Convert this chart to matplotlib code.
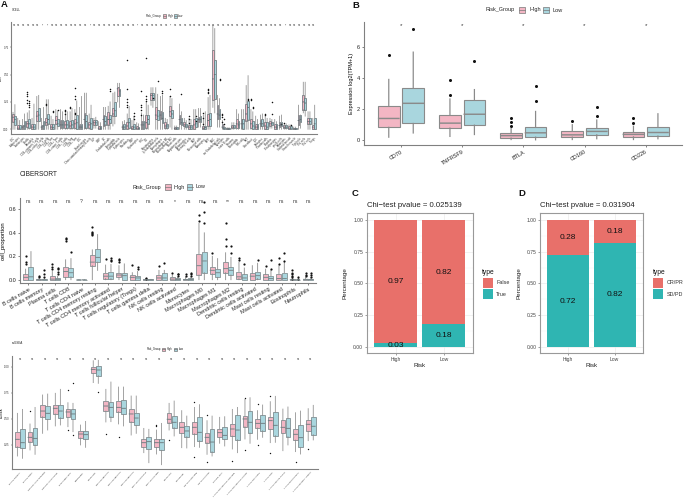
import matplotlib
matplotlib.use("Agg")
import matplotlib.pyplot as plt
from matplotlib.patches import Rectangle
from matplotlib.lines import Line2D

plt.rcParams['font.family'] = ['Liberation Sans', 'DejaVu Sans']
W, H = 685, 500
PINK, TEAL = '#F3B6C4', '#A9D6DE'
RED, GREEN = '#E8706A', '#2FB5B2'

# ---------- Panel A (xCell): rows are low whisker, q1, median, q3, high whisker
a_names = ["aDC","Adipocytes","Astrocytes","B-cells","Basophils","CD4+ memory T-cells","CD4+ naive T-cells",
 "CD4+ T-cells","CD4+ Tcm","CD4+ Tem","CD8+ naive T-cells","CD8+ T-cells","CD8+ Tcm","CD8+ Tem","cDC",
 "Chondrocytes","Class-switched memory B-cells","CLP","CMP","DC","Endothelial cells","Eosinophils",
 "Epithelial cells","Erythrocytes","Fibroblasts","GMP","Hepatocytes","HSC","iDC","Keratinocytes",
 "ly Endothelial cells","Macrophages","Macrophages M1","Macrophages M2","Mast cells","Megakaryocytes",
 "Melanocytes","Memory B-cells","MEP","Mesangial cells","Monocytes","MPP","MSC","mv Endothelial cells",
 "Myocytes","naive B-cells","Neurons","Neutrophils","NK cells","NKT","Osteoblast","pDC","Pericytes",
 "Plasma cells","Platelets","Preadipocytes","pro B-cells","Sebocytes","Skeletal muscle","Smooth muscle",
 "Tgd cells","Th1 cells","Th2 cells","Tregs"]
a_high = [(0,.07,.11,.14,.155),(0,.003,.01,.04,.1),(0,.003,.02,.043,.09),(0,.02,.05,.08,.15),(0,.003,.02,.052,.1),
 (0,.074,.12,.165,.3),(0,.003,.02,.043,.1),(0,.04,.06,.104,.27),(0,.003,.02,.052,.12),(0,.052,.08,.12,.18),
 (0,.012,.04,.089,.18),(0,.009,.04,.074,.17),(0,.012,.03,.08,.16),(0,.012,.05,.096,.18),(0,.003,.02,.052,.2),
 (0,.012,.09,.15,.33),(0,.012,.04,.07,.14),(.01,.043,.06,.083,.1),(0,.003,.01,.028,.07),(0,.028,.09,.132,.2),
 (0,.043,.09,.16,.21),(.03,.125,.14,.193,.33),(.25,.3,.37,.39,.42),(0,.003,.02,.043,.07),(0,.003,.03,.07,.14),
 (0,.003,.01,.034,.08),(0,.003,.01,.028,.06),(0,.003,.04,.074,.15),(0,.012,.06,.132,.25),(.22,.265,.31,.33,.38),
 (0,.09,.13,.2,.38),(0,.09,.13,.166,.3),(0,.015,.03,.064,.1),(.02,.12,.16,.212,.3),(0,.003,.008,.02,.03),
 (0,.052,.09,.132,.23),(0,.028,.04,.064,.1),(0,.003,.02,.043,.1),(0,.003,.04,.095,.18),(.02,.064,.09,.113,.19),
 (0,.003,.01,.028,.13),(0,.028,.08,.138,.29),(.2,.27,.46,.72,.95),(.02,.095,.14,.224,.31),(0,.01,.02,.052,.08),
 (0,0,.003,.01,.015),(0,.012,.02,.043,.06),(0,.012,.05,.095,.18),(0,.012,.05,.095,.18),(0,.08,.14,.231,.4),
 (0,.012,.05,.095,.18),(0,.003,.02,.052,.12),(0,.028,.05,.083,.13),(0,.003,.03,.07,.12),(.01,.034,.05,.077,.1),
 (0,.003,.02,.052,.09),(0,.02,.035,.064,.12),(0,.015,.02,.043,.05),(0,.003,.01,.028,.04),(0,0,.003,.015,.02),
 (0,.04,.08,.126,.22),(.15,.18,.25,.31,.43),(0,.052,.07,.104,.16),(0,.003,.02,.043,.1)]
a_low = [(0,.035,.09,.12,.225),(0,.003,.01,.043,.08),(0,.003,.03,.074,.14),(0,.012,.05,.098,.17),(0,.003,.02,.052,.23),
 (0,.074,.13,.19,.31),(0,.003,.03,.08,.2),(0,.052,.09,.144,.27),(0,.003,.015,.052,.09),(0,.028,.05,.098,.17),
 (0,.012,.04,.083,.16),(0,.012,.04,.083,.16),(0,.012,.04,.089,.19),(0,.003,.06,.126,.26),(0,.003,.02,.052,.3),
 (0,.012,.07,.135,.33),(0,.003,.05,.104,.22),(.01,.043,.06,.083,.11),(0,.003,.01,.028,.06),(0,.043,.07,.12,.2),
 (0,.058,.09,.132,.25),(.05,.12,.17,.25,.34),(.2,.3,.35,.37,.42),(0,.003,.02,.052,.08),(0,.012,.06,.104,.21),
 (0,.003,.02,.052,.12),(0,.003,.008,.02,.05),(0,.003,.04,.074,.13),(0,.052,.09,.132,.22),(.2,.27,.31,.335,.38),
 (0,.083,.12,.18,.32),(0,.058,.1,.156,.31),(0,.015,.03,.052,.09),(0,.101,.14,.18,.28),(0,.003,.008,.02,.03),
 (0,.043,.06,.101,.16),(0,.02,.03,.052,.08),(0,.003,.02,.043,.09),(0,.02,.05,.101,.18),(.02,.07,.09,.12,.19),
 (0,.003,.015,.034,.16),(0,.028,.09,.15,.31),(.15,.28,.5,.63,.92),(.02,.098,.13,.187,.28),(0,.003,.005,.02,.03),
 (0,0,.003,.01,.015),(0,.012,.02,.043,.06),(0,.012,.04,.074,.14),(0,.003,.05,.095,.18),(0,.088,.2,.26,.49),
 (0,.003,.03,.074,.16),(0,.003,.02,.052,.09),(0,.028,.05,.095,.14),(0,.003,.02,.07,.1),(.01,.04,.05,.07,.09),
 (0,.003,.02,.052,.07),(0,.028,.04,.07,.13),(0,.015,.02,.043,.05),(0,.003,.01,.028,.04),(0,0,.003,.015,.02),
 (.01,.064,.09,.126,.13),(.12,.175,.24,.29,.43),(0,.052,.07,.107,.16),(0,.003,.05,.104,.22)]
a_high_out = {3:[.34,.32,.3,.27,.24],7:[.23,.22],11:[.18,.17,.14],12:[.2,.19],13:[.38,.3,.28,.15,.14],
 24:[.37,.63,.28,.25,.22,.2],27:[.35,.22,.2,.18,.13],28:[.655,.3,.28,.26],33:[.37,.3],37:[.12,.09,.06],
 40:[.15,.1,.05],41:[.37,.36,.34,.33],44:[.14,.13,.11,.07],50:[.28,.27],53:[.14,.13],57:[.06]}
a_low_out = {3:[.26,.24,.22,.2],8:[.17,.16],9:[.18],20:[.35,.37],25:[.15,.12,.09],29:[.29],30:[.44],31:[.35,.33],
 35:[.32],38:[.12,.08],43:[.46,.45],44:[.09,.05],49:[.28,.27],50:[.2,.19],54:[.25,.14],56:[.05],58:[.04]}
a_star = [6, 7, 16, 26, 33, 57]

# ---------- CIBERSORT
c_names = ["B cells naive","B cells memory","Plasma cells","T cells CD8","T cells CD4 naive","T cells CD4 memory resting",
 "T cells CD4 memory activated","T cells follicular helper","T cells regulatory (Tregs)","T cells gamma delta",
 "NK cells resting","NK cells activated","Monocytes","Macrophages M0","Macrophages M1","Macrophages M2",
 "Dendritic cells resting","Dendritic cells activated","Mast cells resting","Mast cells activated","Eosinophils","Neutrophils"]
c_sig = ["ns","ns","ns","ns","?","ns","ns","ns","ns","ns","ns","*","ns","ns","ns","**","ns","ns","ns","ns","ns","ns"]
c_high = [(0,0,.02,.045,.09),(0,0,0,.005,.01),(0,0,.005,.03,.07),(0,.02,.07,.11,.17),(0,0,0,.001,.002),(0,.12,.15,.21,.255),
 (0,.01,.03,.06,.125),(0,.02,.04,.06,.12),(0,0,.02,.04,.06),(0,0,0,.005,.008),(0,0,.015,.04,.08),(0,0,.005,.025,.04),
 (0,0,.002,.01,.02),(0,.04,.12,.22,.48),(0,.05,.08,.11,.2),(0,.06,.095,.15,.23),(0,.01,.025,.07,.15),(0,0,.03,.055,.12),
 (0,0,.02,.045,.09),(0,0,.01,.05,.12),(0,0,0,.002,.004),(0,0,.003,.01,.02)]
c_low = [(0,0,.025,.105,.24),(0,0,0,.005,.01),(0,0,.003,.012,.03),(0,.025,.06,.10,.18),(0,0,0,.001,.002),(.08,.15,.19,.26,.385),
 (0,.01,.03,.07,.13),(0,0,.035,.055,.135),(0,0,.015,.035,.07),(0,0,0,.002,.003),(0,0,.015,.055,.08),(0,0,.002,.012,.02),
 (0,0,.002,.012,.02),(0,.06,.16,.24,.4),(0,.02,.06,.09,.18),(0,.04,.08,.105,.19),(0,0,.015,.045,.1),(0,.01,.035,.07,.14),
 (0,0,.01,.035,.08),(0,0,.01,.06,.15),(0,0,0,.001,.002),(0,0,.002,.007,.015)]
c_high_out = [[.13,.15,.2],[.02,.03],[.09,.11,.13],[.33,.35,.36],[],[.38,.39,.4,.41,.45],[.18],[.15,.17,.18],[.125],[.01,.015],
 [.12],[.06],[.03,.05],[.5,.55],[.225],[.29,.35,.48],[.17,.185],[],[.115],[.13,.185],[.01,.02,.03,.05,.06,.08],[.03,.04,.06]]
c_low_out = [[],[.02,.045,.08],[.05,.07,.09,.1],[.235],[],[],[.16,.17,.185],[],[.09,.11],[],[.14],[.03,.045,.05],[.03,.05,.055],
 [.48,.575,.66],[],[.225,.285],[.13],[.165],[.09,.17],[.16,.225],[.01,.02],[.025,.04,.06]]

# ---------- ssGSEA
s_names = ["B cells memory","B cells naive","Dendritic cells activated","Dendritic cells resting","Endothelial cells",
 "Eosinophils","Fibroblasts","Macrophages M0","Macrophages M1","Macrophages M2","Mast cells activated","Mast cells resting",
 "Monocytes","Neutrophils","NK cells activated","NK cells resting","Plasma cells","T cells CD4 memory activated",
 "T cells CD4 memory resting","T cells CD4 naive","T cells CD8","T cells follicular helper","T cells gamma delta",
 "T cells regulatory (Tregs)"]
s_high = [(.144,.234,.304,.377,.553),(.202,.282,.323,.377,.451),(.361,.521,.575,.636,.729),(.432,.547,.601,.636,.745),
 (.425,.515,.566,.591,.655),(.25,.317,.355,.387,.441),(.847,.936,.974,1.0,1.057),(.47,.575,.623,.674,.783),
 (.451,.569,.61,.674,.805),(.345,.473,.547,.598,.719),(.176,.227,.272,.304,.409),(.163,.227,.272,.304,.393),
 (.393,.464,.496,.559,.649),(.224,.361,.419,.467,.579),(.234,.358,.419,.467,.61),(.16,.272,.323,.368,.483),
 (.266,.323,.368,.406,.515),(.211,.336,.403,.454,.591),(.307,.425,.499,.527,.687),(.304,.413,.457,.496,.579),
 (.272,.4,.483,.515,.665),(.195,.361,.419,.486,.594),(.186,.297,.352,.406,.559),(.291,.381,.448,.486,.598)]
s_low = [(.122,.218,.272,.4,.591),(.16,.25,.313,.409,.61),(.393,.495,.553,.623,.738),(.441,.511,.575,.636,.783),
 (.377,.495,.547,.591,.649),(.227,.304,.349,.381,.476),(.84,.914,.968,1.006,1.061),(.473,.521,.61,.658,.853),
 (.432,.543,.601,.678,.805),(.361,.438,.508,.559,.719),(.08,.208,.282,.323,.4),(.061,.199,.272,.304,.457),
 (.336,.416,.467,.524,.671),(.221,.33,.384,.432,.527),(.227,.291,.371,.515,.636),(.144,.186,.278,.4,.527),
 (.24,.304,.342,.419,.521),(.176,.301,.393,.534,.61),(.266,.365,.467,.572,.703),(.323,.387,.457,.534,.633),
 (.275,.339,.438,.562,.716),(.25,.33,.409,.505,.614),(.163,.227,.32,.438,.575),(.298,.349,.429,.521,.63)]
s_high_out = {1:[.58],4:[.776,.393],7:[.355],8:[.326],11:[.444,.432],12:[.298],14:[.662,.135],15:[.534,.087],17:[.093],
 18:[.70,.2],19:[.639,.253],20:[.72,.17],22:[.087],23:[.208]}
s_low_out = {4:[.84,.342],6:[.754]}

# ---------- Panel B
b_names = ["CD70","TNFRSF9","BTLA","CD160","CD226"]
b_high = [(.2,.83,1.4,2.2,3.9),(.25,.78,1.1,1.6,2.65),(.05,.14,.3,.45,.75),(.05,.2,.35,.62,1.0),(.05,.22,.38,.55,.9)]
b_low = [(.47,1.08,2.37,3.37,5.65),(.37,.97,1.67,2.57,3.25),(.03,.2,.48,.88,1.85),(.1,.35,.57,.82,1.3),(.1,.27,.5,.87,1.7)]
b_high_out = [[5.45],[2.9,3.85],[.9,1.2,1.4],[1.22],[1.1,1.43]]
b_low_out = [[7.15],[5.05],[2.5,3.45],[1.53,2.15],[]]

# ---------- Panels C and D
risk = ["High", "Low"]
c_false = [.97, .82]
c_true = [.03, .18]
d_crpr = [.28, .18]
d_sdpd = [.72, .82]


def axes_px(l, t, r, b):
    return fig.add_axes([l / W, 1 - b / H, (r - l) / W, (b - t) / H])


def ftext(x, y, s, **kw):
    kw.setdefault('va', 'center')
    fig.text(x / W, 1 - y / H, s, **kw)


def ylabel_at(ax, s, x_px, size, **kw):
    ax.set_ylabel(s, fontsize=size, **kw)
    bb = ax.get_position()
    ax.yaxis.set_label_coords((x_px / W - bb.x0) / bb.width, .5)


def boxes(ax, pos, stats, outs, color, width, edge, lw, ms):
    bs = [dict(whislo=s[0], q1=s[1], med=s[2], q3=s[3], whishi=s[4], fliers=o) for s, o in zip(stats, outs)]
    art = ax.bxp(bs, positions=pos, widths=width, patch_artist=True, showcaps=False, manage_ticks=False,
                 boxprops=dict(facecolor=color, edgecolor=edge, linewidth=lw),
                 medianprops=dict(color=edge, linewidth=lw * 1.3),
                 whiskerprops=dict(color='#8a8a8a', linewidth=lw * 1.1),
                 flierprops=dict(marker='o', markersize=ms, markerfacecolor='#111111', markeredgecolor='none'))
    for ln in art['whiskers'] + art['medians']:
        ln.set_snap(False)


def pairs(ax, high, low, hout, lout, width, off, edge, lw, ms):
    n = len(high)
    boxes(ax, [i - off for i in range(n)], high, hout, PINK, width, edge, lw, ms)
    boxes(ax, [i + off for i in range(n)], low, lout, TEAL, width, edge, lw, ms)
    ax.set_xlim(-.6, n - .4)
    for s in ('top', 'right'):
        ax.spines[s].set_visible(False)
    for s in ('left', 'bottom'):
        ax.spines[s].set_color('#808080')
        ax.spines[s].set_linewidth(.8)


def legend(xt, xp1, xh, xp2, xl, y, size, fs):
    ftext(xt, y, "Risk_Group", fontsize=fs, ha='left', color='#222222')
    for xp, c, lab, xx in ((xp1, PINK, "High", xh), (xp2, TEAL, "Low", xl)):
        fig.add_artist(Rectangle((xp / W, 1 - (y + size / 2) / H), size / W, size / H, transform=fig.transFigure,
                                 facecolor=c, edgecolor='#777777', linewidth=.5))
        fig.add_artist(Line2D([xp / W, (xp + size) / W], [1 - y / H] * 2, color='#777777', linewidth=.5))
        ftext(xx, y, lab, fontsize=fs, ha='left', color='#222222')


fig = plt.figure(figsize=(W / 100, H / 100), dpi=100, facecolor='white')
assert len(a_names) == len(a_high) == len(a_low) == 64

# Panel A
ax = axes_px(11.1, 22, 316.6, 134)
pairs(ax, a_high, a_low, [a_high_out.get(i, []) for i in range(64)], [a_low_out.get(i, []) for i in range(64)],
      .36, .2, '#5f6b70', .5, 1.1)
ax.set_ylim(-.043, .98)
ax.set_yticks([0, .25, .5, .75], ["0.00", "0.25", "0.50", "0.75"])
ax.set_xticks(range(64), a_names, rotation=45, ha='right', rotation_mode='anchor')
ax.tick_params(labelsize=1.9, length=1, width=.3, pad=.8, colors='#333333')
ylabel_at(ax, "xCell", 3, 2.0)
for i in range(64):
    ax.text(i, .95, '*' if i in a_star else 'ns', fontsize=2.1, ha='center', va='center', color='#333333')
ftext(12, 10, "XCELL", fontsize=2.1, color='#222222')
legend(146, 162.5, 167.5, 173.5, 178, 16, 3.2, 2.1)

# CIBERSORT
ax = axes_px(20.3, 198, 316.3, 283)
n = len(c_names)
pairs(ax, c_high, c_low, c_high_out, c_low_out, .375, .2, '#7d8a8d', .55, 1.6)
ax.set_ylim(-.028, .697)
ax.set_yticks([0, .2, .4, .6], ["0.0", "0.2", "0.4", "0.6"])
ax.set_xticks(range(n), c_names, rotation=30, ha='right', rotation_mode='anchor')
ax.tick_params(labelsize=4.0, length=1.5, width=.4, pad=1.2, colors='#222222')
ylabel_at(ax, "cell_proportion", 6, 4.2)
for i, s in enumerate(c_sig):
    ax.text(i, .67, s, fontsize=3.6, ha='center', va='center', color='#333333')
ftext(20, 174.7, "CIBERSORT", fontsize=4.7, color='#222222')
legend(132.5, 164.5, 173.5, 186.5, 196, 187, 6, 3.9)

# ssGSEA
ax = axes_px(12.3, 356, 318.3, 469.3)
n = len(s_names)
pairs(ax, s_high, s_low, [s_high_out.get(i, []) for i in range(n)], [s_low_out.get(i, []) for i in range(n)],
      .375, .2, '#6f7c80', .5, 1.0)
ax.set_ylim(.017, 1.102)
ax.set_yticks([.25, .5, .75, 1], ["0.25", "0.50", "0.75", "1.00"])
ax.set_xticks(range(n), s_names, rotation=48, ha='right', rotation_mode='anchor')
ax.tick_params(axis='x', labelsize=1.7, length=1, width=.3, pad=.8, colors='#333333')
ax.tick_params(axis='y', labelsize=2.0, length=1, width=.3, pad=.8, colors='#333333')
ylabel_at(ax, "ssGSEA", 4, 2.0)
for i in range(n):
    ax.text(i, 1.07, 'ns', fontsize=2.1, ha='center', va='center', color='#333333')
ftext(12, 342.7, "ssGSEA", fontsize=2.2, color='#222222')
legend(147, 162, 166.7, 174, 179, 349.3, 3.2, 2.0)

# Panel B
ax = axes_px(364.3, 22, 682.4, 145.3)
n = len(b_names)
pairs(ax, b_high, b_low, b_high_out, b_low_out, .355, .2, '#8a8a8a', .8, 2.2)
ax.set_ylim(-.32, 7.58)
ax.set_yticks([0, 2, 4, 6])
ax.set_xticks(range(n), b_names, rotation=30, ha='right', rotation_mode='anchor')
ax.tick_params(labelsize=4.0, length=1.5, width=.4, pad=1.5, colors='#222222')
ylabel_at(ax, "Expression log2(TPM+1)", 354, 4.0)
for i in range(n):
    ax.text(i, 7.35, '*', fontsize=4.5, ha='center', va='center', color='#333333')
legend(485.7, 519.3, 529, 542.7, 552.3, 10, 6, 4.0)


def stacked(l, r, top_vals, bot_vals, top_lab, bot_lab, title, lx, ylab_x):
    ax = axes_px(l, 213.3, r, 353.3)
    ax.bar(risk, bot_vals, width=.9, color=GREEN, zorder=3)
    ax.bar(risk, top_vals, width=.9, bottom=bot_vals, color=RED, zorder=3)
    for i, (t, b) in enumerate(zip(top_vals, bot_vals)):
        ax.text(i, b + t / 2, f"{t:.2f}", fontsize=6.0, ha='center', va='center', color='#111111', zorder=4)
        ax.text(i, b / 2, f"{b:.2f}", fontsize=6.0, ha='center', va='center', color='#111111', zorder=4)
    ax.set_xlim(-.6, 1.6)
    ax.set_ylim(-.047, 1.05)
    ax.set_yticks([0, .25, .5, .75, 1], ["0.00", "0.25", "0.50", "0.75", "1.00"])
    ax.set_yticks([.125, .375, .625, .875], minor=True)
    ax.grid(True, which='major', color='#ebebeb', linewidth=.5, zorder=0)
    ax.grid(True, which='minor', axis='y', color='#f2f2f2', linewidth=.3, zorder=0)
    ax.tick_params(which='minor', length=0)
    ax.tick_params(which='major', labelsize=3.6, length=1.5, width=.4, pad=1, color='#555555', labelcolor='#444444')
    ax.set_xlabel("Risk", fontsize=4.5, labelpad=1, color='#222222')
    ylabel_at(ax, "Percentage", ylab_x, 4.5, color='#222222')
    ax.set_axisbelow(True)
    for s in ax.spines.values():
        s.set_color('#999999')
        s.set_linewidth(.8)
    ftext(l, 206, title, fontsize=5.6, ha='left', color='#222222')
    ftext(lx - .6, 272, "type", fontsize=4.8, ha='left', color='#111111')
    for y0, c, lab in ((278, RED, top_lab), (289, GREEN, bot_lab)):
        fig.add_artist(Rectangle((lx / W, 1 - (y0 + 10) / H), 9.5 / W, 10 / H, transform=fig.transFigure,
                                 facecolor=c, edgecolor='none'))
        ftext(lx + 13, y0 + 5, lab, fontsize=3.9, ha='left', color='#333333')


stacked(366.7, 472.7, c_false, c_true, "False", "True", "Chi\u2212test pvalue = 0.025139", 483, 347)
stacked(540, 642.7, d_crpr, d_sdpd, "CR/PR", "SD/PD", "Chi\u2212test pvalue = 0.031904", 653.3, 521.7)

# Panel letters
for x, y, s in ((1, 4.5, "A"), (352, 5.5, "B"), (352, 194, "C"), (518, 194, "D")):
    ftext(x, y, s, fontsize=6.8, fontweight='bold', ha='left', color='#111111')

fig.savefig("out.png", dpi=100)
